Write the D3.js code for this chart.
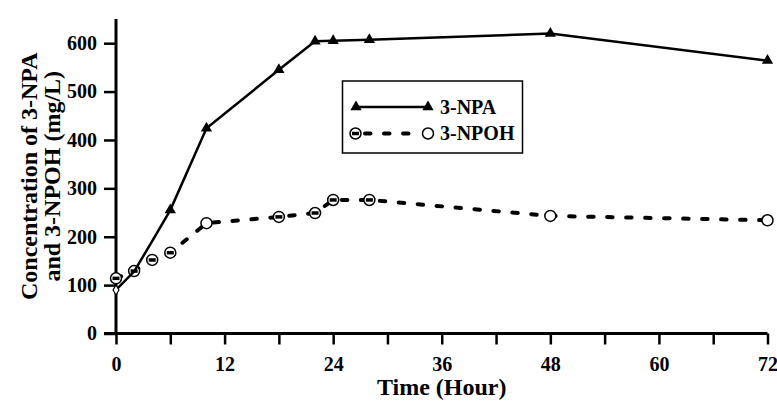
<!DOCTYPE html>
<html>
<head>
<meta charset="utf-8">
<script src="https://cdn.jsdelivr.net/npm/d3@7"></script>
<style>
  body { margin: 0; background: #fff; }
  text { font-family: "Liberation Serif", "Times New Roman", serif; font-weight: bold; }
</style>
</head>
<body>
<script>
// data
var npaTime  = [0, 2, 4, 6, 10, 18, 22, 24, 28, 48, 72]
var npaConc  = [90, 128, 191, 255, 424, 545, 604, 605, 607, 620, 564]
var npohTime = [0, 2, 4, 6, 10, 18, 22, 24, 28, 48, 72]
var npohConc = [114, 129, 152, 167, 228, 241, 249, 276, 276, 243, 234]
var npohOpenAt = [10, 48, 72]   // circles drawn plain (no dash inside)
var xTicks = [0, 6, 12, 18, 24, 30, 36, 42, 48, 54, 60, 66, 72]
var yTicks = [0, 100, 200, 300, 400, 500, 600]
var legendNames = ["3-NPA", "3-NPOH"]

var width = 777, height = 401

var svg = d3.select("body")
  .append("svg")
  .attr("width", width)
  .attr("height", height)

var x = d3.scaleLinear().domain([0, 72]).range([116, 767.5])
var y = d3.scaleLinear().domain([0, 650]).range([333.5, 19])

// x axis
var xAxis = svg.append("g")
  .attr("transform", "translate(0," + y(0) + ")")
  .call(d3.axisBottom(x).tickValues(xTicks).tickSize(11).tickPadding(12)
    .tickFormat(function(d){ return d % 12 === 0 ? d : "" }))
xAxis.select(".domain").remove()
xAxis.selectAll(".tick line").attr("stroke", "#000").attr("stroke-width", 2.5)
xAxis.selectAll(".tick text").style("font-size", "20px").attr("fill", "#000")
  .style("font-family", "Liberation Serif").style("font-weight", "bold")

// y axis
var yAxis = svg.append("g")
  .attr("transform", "translate(" + x(0) + ",0)")
  .call(d3.axisLeft(y).tickValues(yTicks).tickSize(12).tickPadding(7))
yAxis.select(".domain").remove()
yAxis.selectAll(".tick line").attr("stroke", "#000").attr("stroke-width", 2.5)
yAxis.selectAll(".tick text").style("font-size", "20px").attr("fill", "#000")
  .style("font-family", "Liberation Serif").style("font-weight", "bold")

// axis lines
svg.append("line")
  .attr("x1", x(0) - 12).attr("x2", x(72))
  .attr("y1", y(0)).attr("y2", y(0))
  .attr("stroke", "#000").attr("stroke-width", 3)
svg.append("line")
  .attr("x1", x(0)).attr("x2", x(0))
  .attr("y1", y(0)).attr("y2", y(650))
  .attr("stroke", "#000").attr("stroke-width", 3)

// axis titles
svg.append("text")
  .attr("x", x(36)).attr("y", 395)
  .attr("text-anchor", "middle")
  .style("font-size", "24px")
  .text("Time (Hour)")

var midY = (y(0) + y(650)) / 2
svg.append("text")
  .attr("transform", "translate(37," + midY + ")rotate(-90)")
  .attr("text-anchor", "middle")
  .style("font-size", "24px")
  .text("Concentration of 3-NPA")
svg.append("text")
  .attr("transform", "translate(60," + midY + ")rotate(-90)")
  .attr("text-anchor", "middle")
  .style("font-size", "24px")
  .text("and 3-NPOH (mg/L)")

var npa = npaTime.map(function(t, i){ return {t: t, v: npaConc[i]} })
var npoh = npohTime.map(function(t, i){ return {t: t, v: npohConc[i]} })

var line = d3.line()
  .x(function(d){ return x(d.t) })
  .y(function(d){ return y(d.v) })

// 3-NPOH dashed line
svg.append("path")
  .datum(npoh)
  .attr("d", line)
  .attr("fill", "none")
  .attr("stroke", "#000")
  .attr("stroke-width", 4)
  .attr("stroke-linecap", "round")
  .attr("stroke-dasharray", "5.5,13.5")

// 3-NPOH circles
function drawCircle(g, cx, cy, open) {
  g.append("circle")
    .attr("cx", cx).attr("cy", cy).attr("r", 5.5)
    .attr("fill", "#fff").attr("stroke", "#000").attr("stroke-width", 1.5)
  if (!open) {
    g.append("line")
      .attr("x1", cx - 3.5).attr("x2", cx + 3.5)
      .attr("y1", cy).attr("y2", cy)
      .attr("stroke", "#000").attr("stroke-width", 3.5)
  }
}
var circG = svg.append("g")
npoh.forEach(function(d){
  drawCircle(circG, x(d.t), y(d.v), npohOpenAt.indexOf(d.t) >= 0)
})

// 3-NPA solid line
svg.append("path")
  .datum(npa)
  .attr("d", line)
  .attr("fill", "none")
  .attr("stroke", "#000")
  .attr("stroke-width", 2.5)

var tri = d3.symbol().type(d3.symbolTriangle).size(55)
svg.selectAll("mytriangles")
  .data(npa.filter(function(d){ return d.t >= 6 }))
  .enter()
  .append("path")
    .attr("d", tri)
    .attr("transform", function(d){ return "translate(" + x(d.t) + "," + y(d.v) + ")" })
    .attr("fill", "#000")

// small open mark at t = 0
svg.append("path")
  .attr("d", d3.symbol().type(d3.symbolDiamond).size(30))
  .attr("transform", "translate(" + x(npa[0].t) + "," + y(npa[0].v) + ")")
  .attr("fill", "#fff").attr("stroke", "#000").attr("stroke-width", 1.2)

// legend
var lg = svg.append("g")
lg.append("rect")
  .attr("x", 342.5).attr("y", 81).attr("width", 180).attr("height", 72)
  .attr("fill", "#fff").attr("stroke", "#000").attr("stroke-width", 1.5)

lg.append("line")
  .attr("x1", 356).attr("x2", 428).attr("y1", 107).attr("y2", 107)
  .attr("stroke", "#000").attr("stroke-width", 2.5)
lg.selectAll("legtri")
  .data([356, 428])
  .enter()
  .append("path")
    .attr("d", tri)
    .attr("transform", function(d){ return "translate(" + d + ",107)" })
    .attr("fill", "#000")

lg.append("line")
  .attr("x1", 362).attr("x2", 421).attr("y1", 133.5).attr("y2", 133.5)
  .attr("stroke", "#000").attr("stroke-width", 4)
  .attr("stroke-linecap", "round")
  .attr("stroke-dasharray", "5.5,13.5")
  .attr("stroke-dashoffset", -3)
drawCircle(lg, 355.5, 133.5, false)
drawCircle(lg, 428, 133.5, true)

lg.selectAll("legtext")
  .data(legendNames)
  .enter()
  .append("text")
    .attr("x", 440)
    .attr("y", function(d, i){ return 113.5 + i * 26 })
    .style("font-size", "20px")
    .text(function(d){ return d })
</script>
</body>
</html>
